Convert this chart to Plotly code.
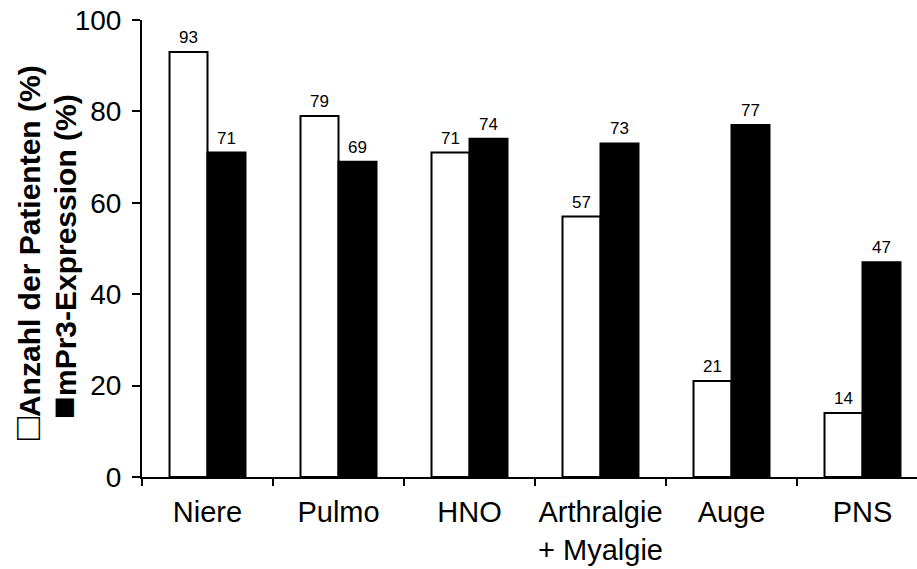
import plotly.graph_objects as go

categories = ["Niere", "Pulmo", "HNO", "Arthralgie<br>+ Myalgie", "Auge", "PNS"]
patients = [93, 79, 71, 57, 21, 14]
mpr3 = [71, 69, 74, 73, 77, 47]
y_ticks = [0, 20, 40, 60, 80, 100]

FONT = "Liberation Sans, Arial, Helvetica, sans-serif"

fig = go.Figure()
fig.add_trace(go.Bar(x=categories, y=patients, name="Anzahl der Patienten (%)",
                     marker=dict(color="white", line=dict(color="black", width=2))))
fig.add_trace(go.Bar(x=categories, y=mpr3, name="mPr3-Expression (%)",
                     marker=dict(color="black", line=dict(color="black", width=2))))

annotations = []
for c, v in zip(categories, patients):
    annotations.append(dict(x=c, y=v, xref="x", yref="y", text=str(v), showarrow=False,
                            xshift=-19, yshift=3, yanchor="bottom",
                            font=dict(family=FONT, size=17, color="black")))
for c, v in zip(categories, mpr3):
    annotations.append(dict(x=c, y=v, xref="x", yref="y", text=str(v), showarrow=False,
                            xshift=19, yshift=3, yanchor="bottom",
                            font=dict(family=FONT, size=17, color="black")))

# y-axis title lines (rotated)
W = 917 - 142
H = 457
def px_x(p):
    return (p - 142) / W
def px_y(p):
    return (477 - p) / H

SQ = '<span style="font-size:38px">%s</span>'
annotations.append(dict(x=px_x(27), y=px_y(253), xref="paper", yref="paper",
                        text="<b>" + SQ % "□" + "Anzahl der Patienten (%)</b>", textangle=-90,
                        showarrow=False, xanchor="center", yanchor="middle",
                        font=dict(family=FONT, size=30, color="black")))
annotations.append(dict(x=px_x(63), y=px_y(257), xref="paper", yref="paper",
                        text="<b>" + SQ % "■" + "mPr3-Expression (%)</b>", textangle=-90,
                        showarrow=False, xanchor="center", yanchor="middle",
                        font=dict(family=FONT, size=30, color="black")))

fig.update_layout(
    width=917, height=569,
    margin=dict(l=142, r=0, t=20, b=92),
    paper_bgcolor="white", plot_bgcolor="white",
    barmode="group", bargap=0.42, bargroupgap=0,
    showlegend=False,
    annotations=annotations,
    font=dict(family=FONT, color="black"),
)
fig.update_xaxes(
    range=[-0.5, -0.5 + W / 131],
    showline=True, linecolor="black", linewidth=2,
    ticks="outside", tickson="boundaries", ticklen=7, tickwidth=2, tickcolor="black",
    tickangle=0, automargin=False, ticklabelstandoff=8,
    tickfont=dict(family=FONT, size=29, color="black"),
    showgrid=False, zeroline=False,
)
fig.update_yaxes(
    range=[0, 100], tickvals=y_ticks,
    showline=True, linecolor="black", linewidth=2,
    ticks="outside", ticklen=8, tickwidth=2, tickcolor="black",
    automargin=False, ticklabelstandoff=5,
    tickfont=dict(family=FONT, size=28, color="black"),
    showgrid=False, zeroline=False,
)

fig.write_html("out.html")
